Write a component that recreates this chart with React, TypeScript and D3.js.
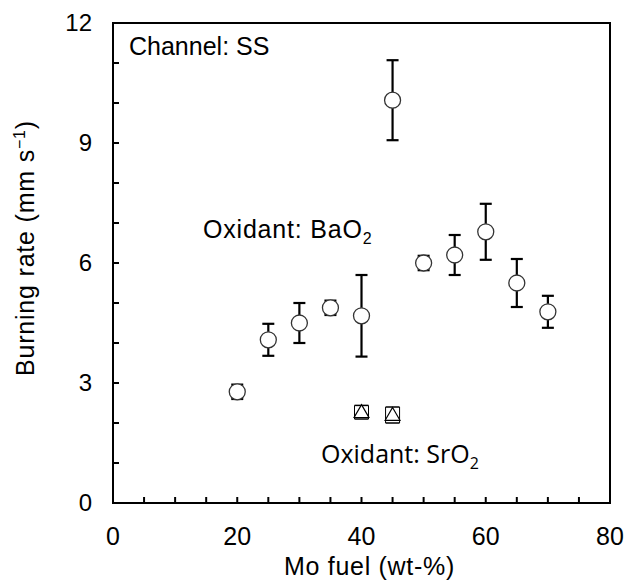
import React from 'react';
import * as d3 from 'd3';

// BaO2 series
const baFuel = [20, 25, 30, 35, 40, 45, 50, 55, 60, 65, 70];
const baRate = [2.78, 4.08, 4.5, 4.88, 4.68, 10.07, 6.0, 6.2, 6.78, 5.5, 4.78];
const baErr = [0.18, 0.4, 0.5, 0.18, 1.02, 1.0, 0.18, 0.5, 0.7, 0.6, 0.4];

// SrO2 series
const srFuel = [40, 45];
const srRate = [2.27, 2.2];
const srErr = [0.17, 0.2];

const xTicks = [0, 20, 40, 60, 80];
const yTicks = [0, 3, 6, 9, 12];

const width = 627;
const height = 585;
const margin = { top: 23, right: 17, bottom: 82, left: 113 };

const App: React.FC = () => {
  const x = d3.scaleLinear().domain([0, 80]).range([margin.left, width - margin.right]);
  const y = d3.scaleLinear().domain([0, 12]).range([height - margin.bottom, margin.top]);

  const font = "'Liberation Sans', Arial, sans-serif";
  const x0 = x(0), x1 = x(80), y0 = y(0), y1 = y(12);
  const minorX = d3.range(0, 81, 5);
  const minorY = d3.range(0, 13, 1);
  const tri = d3.symbol().type(d3.symbolTriangle).size(95);

  return (
    <svg width={width} height={height} style={{ position: 'absolute', left: 0, top: 0, background: '#fff' }}>
      {/* frame */}
      <rect x={x0} y={y1} width={x1 - x0} height={y0 - y1} fill="none" stroke="#000" strokeWidth={2} />
      {/* inward ticks */}
      {minorX.map(v => (
        <line key={'tx' + v} x1={x(v)} x2={x(v)} y1={y0} y2={y0 - 6} stroke="#000" strokeWidth={2} />
      ))}
      {minorY.map(v => (
        <line key={'ty' + v} x1={x0} x2={x0 + 6} y1={y(v)} y2={y(v)} stroke="#000" strokeWidth={2} />
      ))}
      {xTicks.map(v => (
        <text key={'lx' + v} x={x(v)} y={y0 + 42} fontFamily={font} fontSize={25} textAnchor="middle">{v}</text>
      ))}
      {yTicks.map(v => (
        <text key={'ly' + v} x={x0 - 21} y={y(v) + 8} fontFamily={font} fontSize={24} textAnchor="end">{v}</text>
      ))}
      <text x={284} y={575} fontFamily={font} fontSize={25} letterSpacing={0.7}>Mo fuel (wt-%)</text>
      <text transform="translate(34,376) rotate(-90)" fontFamily={font} fontSize={25} letterSpacing={0.8}>
        Burning rate (mm s<tspan dy={-9} fontSize={16}>−1</tspan><tspan dy={9}>)</tspan>
      </text>

      {/* BaO2 error bars + circles */}
      {baFuel.map((f, i) => (
        <g key={'ba' + f}>
          <line x1={x(f)} x2={x(f)} y1={y(baRate[i] + baErr[i])} y2={y(baRate[i] - baErr[i])} stroke="#000" strokeWidth={2.2} />
          <line x1={x(f) - 6} x2={x(f) + 6} y1={y(baRate[i] + baErr[i])} y2={y(baRate[i] + baErr[i])} stroke="#000" strokeWidth={2.2} />
          <line x1={x(f) - 6} x2={x(f) + 6} y1={y(baRate[i] - baErr[i])} y2={y(baRate[i] - baErr[i])} stroke="#000" strokeWidth={2.2} />
          <circle cx={x(f)} cy={y(baRate[i])} r={8} fill="#fff" stroke="#333" strokeWidth={1.3} />
        </g>
      ))}

      {/* SrO2 error bars + triangles */}
      {srFuel.map((f, i) => (
        <g key={'sr' + f}>
          <line x1={x(f) - 7} x2={x(f) + 7} y1={y(srRate[i] + srErr[i])} y2={y(srRate[i] + srErr[i])} stroke="#000" strokeWidth={1.5} />
          <line x1={x(f) - 7} x2={x(f) + 7} y1={y(srRate[i] - srErr[i])} y2={y(srRate[i] - srErr[i])} stroke="#000" strokeWidth={1.5} />
          <line x1={x(f) - 7} x2={x(f) - 7} y1={y(srRate[i] + srErr[i])} y2={y(srRate[i] - srErr[i])} stroke="#000" strokeWidth={1} />
          <line x1={x(f) + 7} x2={x(f) + 7} y1={y(srRate[i] + srErr[i])} y2={y(srRate[i] - srErr[i])} stroke="#000" strokeWidth={1} />
          <path d={tri() || ''} transform={`translate(${x(f)},${y(srRate[i]) + 1})`} fill="#fff" stroke="#000" strokeWidth={1.2} />
        </g>
      ))}

      {/* annotations */}
      <text x={129} y={55} fontFamily={font} fontSize={25}>Channel: SS</text>
      <text x={203} y={238} fontFamily={font} fontSize={25} letterSpacing={0.8}>
        Oxidant: BaO<tspan dy={6} fontSize={16}>2</tspan>
      </text>
      <text x={321} y={463} fontFamily="'Open Sans', 'Noto Sans', sans-serif" fontSize={25}>
        Oxidant: SrO<tspan dy={6} fontSize={16}>2</tspan>
      </text>
    </svg>
  );
};

export default App;
